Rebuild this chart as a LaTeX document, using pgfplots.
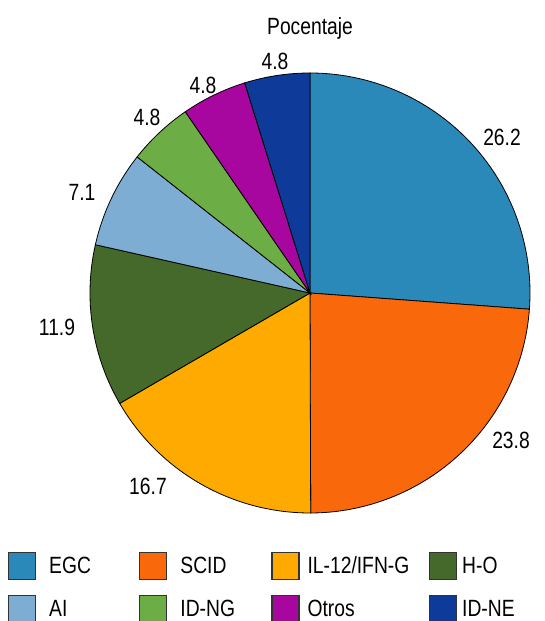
\documentclass[border=0pt]{standalone}
\usepackage{pgfplots}
\pgfplotsset{compat=1.18}
\usepackage{pgfplotstable}
\usepackage{fontspec}
\setmainfont{Liberation Sans}[FakeStretch=0.82]

\definecolor{cEGC}{HTML}{2A89B8}
\definecolor{cSCID}{HTML}{F9680A}
\definecolor{cIL}{HTML}{FEAA00}
\definecolor{cHO}{HTML}{44692A}
\definecolor{cAI}{HTML}{7DADD2}
\definecolor{cNG}{HTML}{6CAD45}
\definecolor{cOt}{HTML}{A8079F}
\definecolor{cNE}{HTML}{0E3B99}

\pgfplotstableread{
label value color
EGC 26.2 cEGC
SCID 23.8 cSCID
IL-12/IFN-G 16.7 cIL
H-O 11.9 cHO
AI 7.1 cAI
ID-NG 4.8 cNG
Otros 4.8 cOt
ID-NE 4.8 cNE
}\datatable

\begin{document}
\begin{tikzpicture}[font=\fontsize{23.5}{28}\selectfont]
\begin{axis}[
  scale only axis, width=544pt, height=621pt,
  xmin=0, xmax=544, ymin=0, ymax=621,
  hide axis, clip=false,
  legend columns=4,
  legend cell align=left,
  legend style={at={(axis cs:8,69)}, anchor=north west, draw=none, fill=none,
    inner sep=0pt, outer sep=0pt, row sep=15pt,
    font=\fontsize{23.5}{28}\selectfont,
    nodes={inner sep=0pt, outer sep=0pt},
    /tikz/every odd column/.append style={column sep=13pt}},
  legend image code/.code={\draw[#1, draw=black!80, line width=1.2pt] (0pt,-13.5pt) rectangle (27pt,13.5pt);},
]
\def\total{0}
\pgfplotsforeachungrouped \i in {0,...,7}{%
  \pgfplotstablegetelem{\i}{value}\of\datatable
  \pgfmathsetmacro\total{\total+\pgfplotsretval}%
}
\pgfmathsetmacro\k{360/\total}
\def\cum{0}
\pgfplotsforeachungrouped \i in {0,...,7}{%
  \pgfplotstablegetelem{\i}{value}\of\datatable \let\v=\pgfplotsretval
  \pgfplotstablegetelem{\i}{label}\of\datatable \let\lab=\pgfplotsretval
  \pgfplotstablegetelem{\i}{color}\of\datatable \let\col=\pgfplotsretval
  \pgfmathsetmacro\a{90-\k*\cum}%
  \pgfmathsetmacro\cum{\cum+\v}%
  \pgfmathsetmacro\b{90-\k*\cum}%
  \pgfmathtruncatemacro\c{mod(\i,4)}%
  \ifcase\c \def\tw{text width=90pt}\def\hs{0pt}\or\def\tw{text width=91pt}\def\hs{0pt}\or\def\tw{text width=116.4pt}\def\hs{-5pt}\else\def\tw{text width=75pt}\def\hs{-8pt}\fi
  \edef\doplot{\noexpand\addplot[fill=\col, draw=black, line width=0.8pt, domain=\b:\a, samples=90, variable=\noexpand\t]
     ({310+220*cos(\noexpand\t)},{328+220*sin(\noexpand\t)}) -- (axis cs:310,328) -- cycle;
     \noexpand\addlegendentry[\tw]{\noexpand\hspace*{\hs}\lab}}%
  \doplot
}
\node[anchor=base] at (axis cs:310,586) {Pocentaje};
\node at (axis cs:502,484) {26.2};
\node at (axis cs:511,181) {23.8};
\node at (axis cs:148,135) {16.7};
\node at (axis cs:57,294) {11.9};
\node at (axis cs:82,429) {7.1};
\node at (axis cs:147,504) {4.8};
\node at (axis cs:203,536) {4.8};
\node at (axis cs:275,560) {4.8};
\end{axis}
\pgfresetboundingbox
\useasboundingbox (current axis.south west) rectangle (current axis.north east);
\end{tikzpicture}
\end{document}
